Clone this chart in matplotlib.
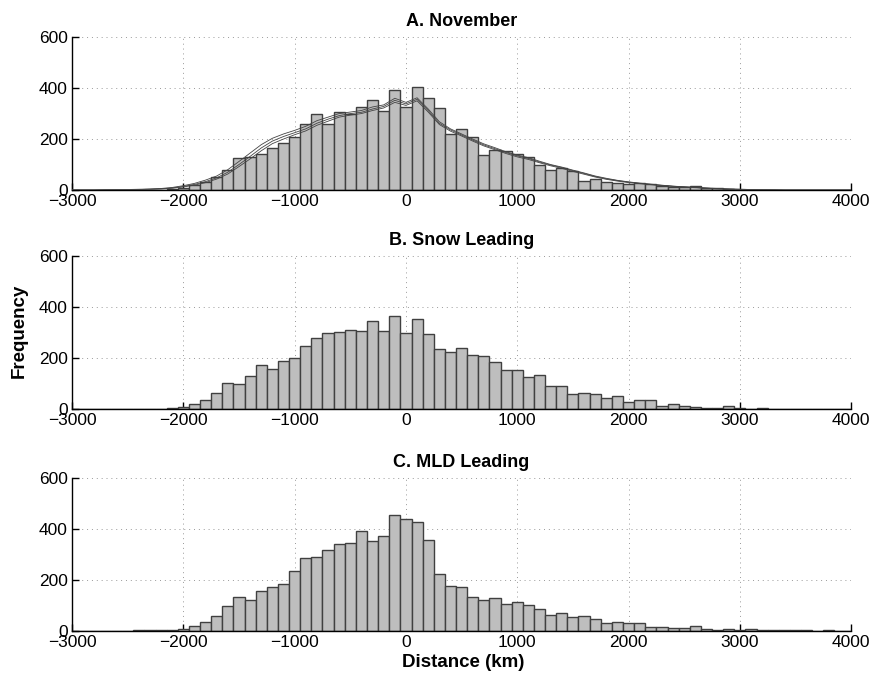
import numpy as np
import matplotlib
matplotlib.use("Agg")
import matplotlib.pyplot as plt

plt.rcParams['font.family'] = ['Liberation Sans', 'DejaVu Sans']

# bin centres (km), 100 km bins
centers = np.arange(-3000, 4001, 100)

# A. November histogram
nov = [0, 1, 1, 1, 1, 1, 2, 2, 2, 4,
       8, 20, 33, 51, 78, 127, 129, 140, 165, 186, 209, 261, 297, 261, 305, 298, 324, 352, 310, 392, 327,
       405, 363, 323, 221, 239, 207, 137, 157, 154, 140, 131, 98, 77, 86, 76, 37, 42, 33, 29, 22, 28, 22,
       16, 10, 13, 17, 9, 7, 4, 2, 1, 1, 1, 0, 0, 0, 0, 0, 0, 0]

# A. November - line curves drawn over the histogram
nov_line1 = [0, 0, 0, 1, 1, 1, 2, 3, 5, 8,
             14, 22, 33, 48, 70, 100, 132, 165, 192, 210, 225, 240, 262, 278, 292, 300, 305, 318, 328, 352, 338,
             356, 312, 262, 236, 216, 196, 177, 162, 147, 134, 124, 110, 98, 88, 76, 65, 53, 44, 37, 31, 26, 22,
             18, 15, 12, 10, 7, 5, 4, 3, 2, 1, 1, 0, 0, 0, 0, 0, 0, 0]
nov_line2 = [0, 0, 0, 1, 1, 2, 3, 4, 6, 10,
             17, 26, 39, 55, 80, 112, 145, 178, 203, 220, 234, 250, 272, 286, 300, 306, 312, 326, 334, 360, 344,
             362, 318, 268, 240, 220, 200, 181, 166, 150, 137, 127, 113, 100, 90, 78, 67, 55, 46, 38, 32, 27, 23,
             19, 15, 13, 10, 8, 6, 4, 3, 2, 1, 1, 0, 0, 0, 0, 0, 0, 0]
nov_line3 = [0, 0, 0, 0, 1, 1, 2, 3, 4, 7,
             12, 19, 29, 43, 63, 92, 122, 154, 182, 200, 217, 232, 254, 270, 286, 294, 300, 312, 322, 344, 332,
             350, 306, 257, 231, 212, 192, 173, 158, 143, 130, 120, 107, 95, 85, 73, 62, 51, 42, 35, 29, 25, 21,
             17, 14, 11, 9, 7, 5, 3, 2, 1, 1, 0, 0, 0, 0, 0, 0, 0, 0]

# B. Snow Leading histogram
snow = [0, 0, 0, 1, 1, 1, 1, 2, 2, 4,
        9, 19, 38, 64, 103, 101, 132, 175, 159, 191, 203, 250, 281, 301, 305, 311, 306, 346, 306, 367, 298,
        354, 297, 238, 223, 241, 215, 209, 184, 155, 156, 127, 134, 91, 90, 62, 66, 60, 44, 52, 30, 36, 36,
        12, 19, 12, 8, 7, 4, 12, 4, 3, 4, 2, 1, 1, 0, 0, 0, 0, 0]

# C. MLD Leading histogram
mld = [0, 1, 1, 1, 1, 1, 2, 2, 2, 3,
       7, 18, 34, 59, 98, 132, 121, 156, 174, 184, 235, 286, 291, 317, 341, 346, 392, 353, 371, 455, 438,
       428, 357, 222, 177, 172, 132, 121, 129, 105, 113, 101, 85, 64, 71, 54, 58, 46, 30, 34, 30, 31, 14,
       14, 10, 10, 18, 7, 4, 7, 4, 7, 3, 5, 3, 2, 2, 1, 2, 1, 1]

titles = ["A. November", "B. Snow Leading", "C. MLD Leading"]
xticks = [-3000, -2000, -1000, 0, 1000, 2000, 3000, 4000]
yticks = [0, 200, 400, 600]

fig = plt.figure(figsize=(8.73, 6.75), dpi=100)
left, width = 0.0825, 0.8925
bottoms = [0.7185, 0.3936, 0.0652]
height = 0.2265

for i, counts in enumerate([nov, snow, mld]):
    ax = fig.add_axes([left, bottoms[i], width, height])
    ax.bar(centers, counts, width=100, color='#bebebe', edgecolor='#404040', linewidth=1.0, zorder=2)
    if i == 0:
        for ln in [nov_line1, nov_line2, nov_line3]:
            ax.plot(centers, ln, color='#444444', linewidth=0.6, zorder=3)
    ax.set_xlim(-3000, 4000)
    ax.set_ylim(0, 600)
    ax.set_xticks(xticks)
    ax.set_yticks(yticks)
    ax.grid(True, linestyle=(0, (1, 4)), color='#999999', linewidth=0.7, zorder=0)
    ax.set_axisbelow(True)
    for s in ['top', 'right']:
        ax.spines[s].set_visible(False)
    ax.spines['left'].set_linewidth(1.0)
    ax.spines['bottom'].set_linewidth(1.0)
    ax.tick_params(direction='in', length=5, width=1.0, labelsize=12.5, pad=3)
    ax.set_title(titles[i], fontsize=13, fontweight='bold', pad=8)

fig.text(0.022, 0.51, "Frequency", rotation=90, fontsize=13.5, fontweight='bold',
         ha='center', va='center')
fig.text(0.53, 0.019, "Distance (km)", fontsize=13.5, fontweight='bold',
         ha='center', va='center')

fig.savefig("out.png", dpi=100)
